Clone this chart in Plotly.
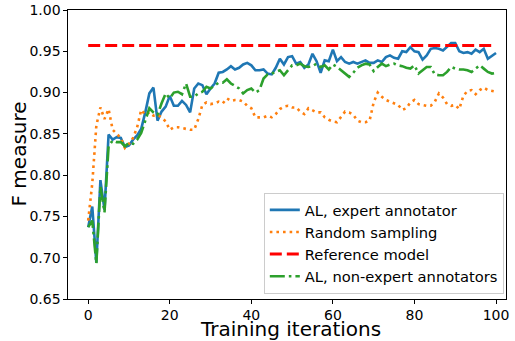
import plotly.graph_objects as go

iterations = list(range(0, 101))

al_expert = [
    0.737, 0.762, 0.694, 0.794, 0.758, 0.849, 0.843, 0.846, 0.845, 0.834,
    0.836, 0.843, 0.848, 0.856, 0.876, 0.899, 0.906, 0.866, 0.877, 0.883,
    0.896, 0.884, 0.884, 0.890, 0.885, 0.876, 0.905, 0.911, 0.909, 0.898,
    0.905, 0.911, 0.924, 0.925, 0.928, 0.932, 0.928, 0.930, 0.934, 0.936,
    0.933, 0.927, 0.927, 0.928, 0.923, 0.922, 0.930, 0.941, 0.934, 0.943,
    0.944, 0.935, 0.937, 0.930, 0.934, 0.947, 0.938, 0.924, 0.939, 0.938,
    0.952, 0.938, 0.943, 0.937, 0.935, 0.937, 0.935, 0.937, 0.939, 0.936,
    0.936, 0.939, 0.937, 0.943, 0.945, 0.942, 0.941, 0.950, 0.949, 0.955,
    0.950, 0.949, 0.940, 0.945, 0.953, 0.954, 0.953, 0.951, 0.955, 0.960,
    0.960, 0.950, 0.948, 0.949, 0.947, 0.952, 0.949, 0.953, 0.941, 0.945,
    0.948,
]

random_sampling = [
    0.745, 0.790, 0.860, 0.882, 0.868, 0.880, 0.855, 0.850, 0.845, 0.833,
    0.838, 0.845, 0.858, 0.879, 0.873, 0.876, 0.872, 0.873, 0.870, 0.865,
    0.855, 0.858, 0.858, 0.857, 0.856, 0.855, 0.855, 0.868, 0.885, 0.888,
    0.886, 0.887, 0.889, 0.887, 0.893, 0.890, 0.891, 0.891, 0.889, 0.884,
    0.881, 0.870, 0.870, 0.870, 0.872, 0.870, 0.874, 0.880, 0.883, 0.884,
    0.882, 0.882, 0.877, 0.874, 0.881, 0.878, 0.876, 0.876, 0.870, 0.867,
    0.865, 0.864, 0.871, 0.877, 0.876, 0.873, 0.866, 0.864, 0.864, 0.866,
    0.888, 0.900, 0.895, 0.891, 0.889, 0.887, 0.885, 0.879, 0.881, 0.888,
    0.891, 0.886, 0.885, 0.884, 0.884, 0.889, 0.899, 0.894, 0.886, 0.884,
    0.885, 0.880, 0.896, 0.902, 0.903, 0.898, 0.903, 0.906, 0.903, 0.902,
    0.901,
]

reference_model = [0.957] * 101

al_non_expert = [
    0.737, 0.745, 0.693, 0.786, 0.755, 0.835, 0.842, 0.840, 0.840, 0.835,
    0.839, 0.838, 0.843, 0.851, 0.866, 0.881, 0.876, 0.873, 0.887, 0.899,
    0.893, 0.900, 0.901, 0.898, 0.911, 0.895, 0.895, 0.899, 0.901, 0.907,
    0.905, 0.909, 0.912, 0.912, 0.916, 0.911, 0.908, 0.905, 0.899, 0.903,
    0.905, 0.900, 0.903, 0.917, 0.922, 0.923, 0.925, 0.927, 0.921, 0.927,
    0.933, 0.933, 0.935, 0.932, 0.931, 0.932, 0.935, 0.931, 0.933, 0.928,
    0.934, 0.931, 0.927, 0.924, 0.919, 0.924, 0.930, 0.933, 0.935, 0.934,
    0.926, 0.931, 0.935, 0.932, 0.934, 0.935, 0.933, 0.932, 0.930, 0.929,
    0.933, 0.923, 0.927, 0.931, 0.931, 0.922, 0.921, 0.921, 0.925, 0.931,
    0.929, 0.928, 0.928, 0.927, 0.925, 0.929, 0.933, 0.929, 0.925, 0.923,
    0.924,
]

x_ticks = [0, 20, 40, 60, 80, 100]
y_ticks = [0.65, 0.70, 0.75, 0.80, 0.85, 0.90, 0.95, 1.00]
y_tick_labels = ["0.65", "0.70", "0.75", "0.80", "0.85", "0.90", "0.95", "1.00"]
x_title = "Training iterations"
y_title = "F measure"

FONT = "DejaVu Sans"

fig = go.Figure()
fig.add_trace(go.Scatter(x=iterations, y=al_expert, mode="lines",
                         name="AL, expert annotator",
                         line=dict(color="#1f77b4", width=2.6)))
fig.add_trace(go.Scatter(x=iterations, y=random_sampling, mode="lines",
                         name="Random sampling",
                         line=dict(color="#ff7f0e", width=2.6, dash="2.6px,4px")))
fig.add_trace(go.Scatter(x=iterations, y=reference_model, mode="lines",
                         name="Reference model",
                         line=dict(color="#ff0000", width=3, dash="12px,5px")))
fig.add_trace(go.Scatter(x=iterations, y=al_non_expert, mode="lines",
                         name="AL, non-expert annotators",
                         line=dict(color="#2ca02c", width=2.6, dash="15px,4px,2.6px,4px")))

axis_common = dict(
    showgrid=False, zeroline=False, showline=True, linecolor="black",
    linewidth=1.2, mirror=True, ticks="outside", ticklen=3.5, tickcolor="black",
    tickfont=dict(family=FONT, size=14, color="black"), automargin=False,
)

fig.update_layout(
    width=515, height=341,
    margin=dict(l=68, r=9, t=10, b=42),
    paper_bgcolor="white", plot_bgcolor="white",
    font=dict(family=FONT, color="black"),
    xaxis=dict(range=[-4.95, 102.45], tickvals=x_ticks, **axis_common),
    yaxis=dict(range=[0.65, 1.0], tickvals=y_ticks, ticktext=y_tick_labels, **axis_common),
    legend=dict(x=0.995, y=0.018, xanchor="right", yanchor="bottom",
                bgcolor="rgba(255,255,255,0.8)", bordercolor="#cccccc", borderwidth=1,
                font=dict(family=FONT, size=14.7, color="black"),
                itemwidth=30, tracegroupgap=0),
    showlegend=True,
    annotations=[
        dict(text=x_title, xref="paper", yref="paper", x=0.507, y=0,
             xanchor="center", yanchor="top", yshift=-16, showarrow=False,
             font=dict(family=FONT, size=20, color="black")),
        dict(text=y_title, xref="paper", yref="paper", x=0, y=0.5,
             xanchor="center", yanchor="middle", xshift=-50, textangle=-90,
             showarrow=False, font=dict(family=FONT, size=20, color="black")),
    ],
)

fig.write_html("out.html", config={"displayModeBar": False},
               post_script="document.body.style.margin='0';document.body.style.padding='0';")
